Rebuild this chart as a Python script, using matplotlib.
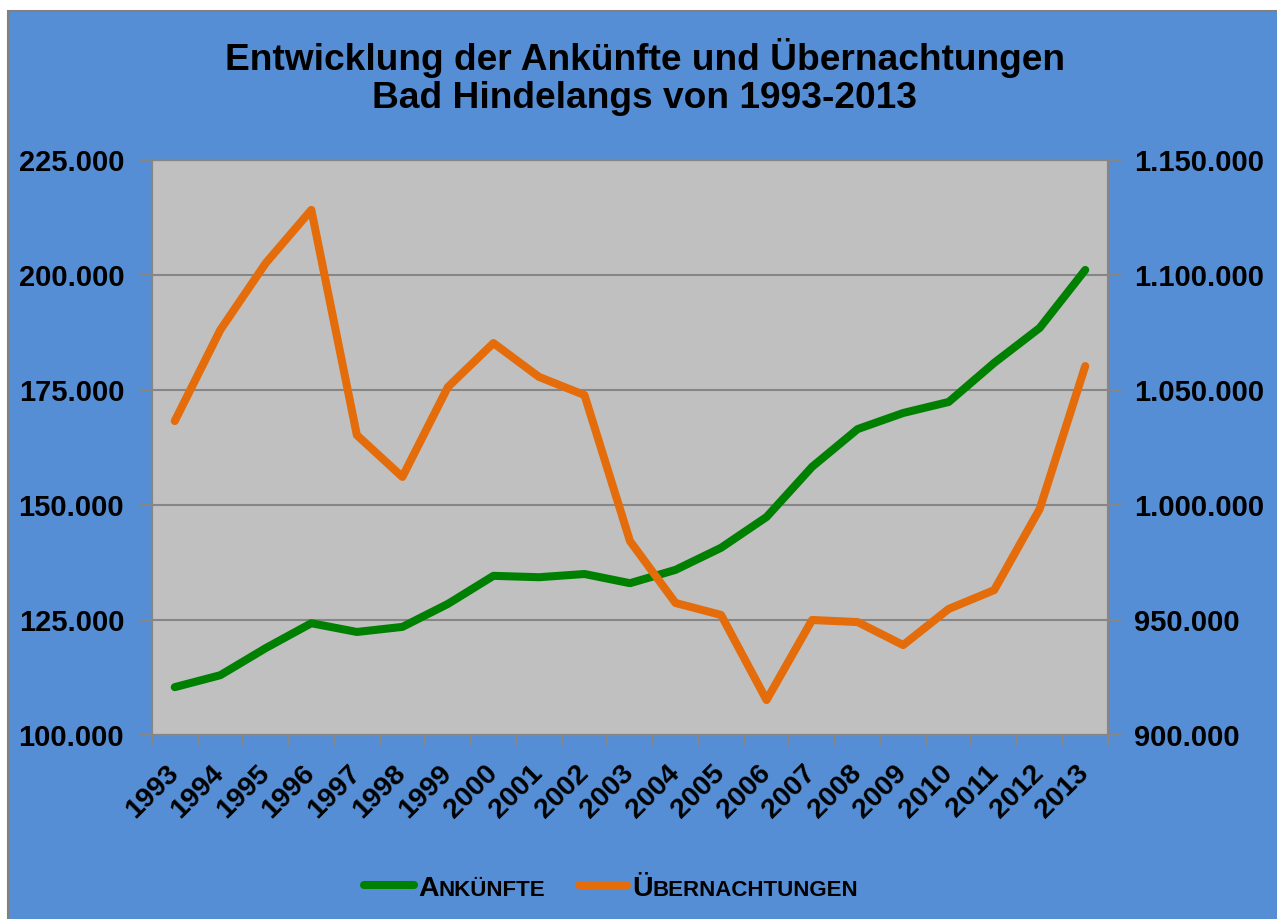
import numpy as np
import matplotlib
matplotlib.use("Agg")
import matplotlib.pyplot as plt
from matplotlib.patches import Rectangle
from matplotlib.lines import Line2D
from matplotlib.transforms import ScaledTranslation
from matplotlib.ticker import FuncFormatter, FixedLocator

plt.rcParams['font.family'] = ['Liberation Sans', 'DejaVu Sans']
plt.rcParams['font.weight'] = 'bold'

jahre = [str(j) for j in range(1993, 2014)]
# Ankuenfte (linke Achse)
ankuenfte = [110400, 113000, 118900, 124300, 122400, 123500, 128500, 134600, 134300, 135000,
             133000, 135900, 140700, 147400, 158300, 166500, 170000, 172400, 180900, 188500, 201100]
# Uebernachtungen (rechte Achse)
uebernachtungen = [1036500, 1076100, 1105200, 1128300, 1030400, 1012200, 1051300, 1070400, 1055700, 1047800,
                   984300, 957400, 952200, 915200, 950000, 949100, 939100, 954800, 963000, 998300, 1060400]

blau = '#558ED5'
grau = '#868686'
gruen = '#008000'
orange = '#E46C0A'

fig = plt.figure(figsize=(12.77, 9.19), dpi=100)
fig.patch.set_facecolor('white')
fig.patches.append(Rectangle((8 / 1277, -0.01), 1.0, (919 - 11) / 919 + 0.01,
                             transform=fig.transFigure, facecolor=blau,
                             edgecolor='#808080', linewidth=1.5, zorder=-5))

ax = fig.add_axes([152 / 1277, 1 - 735 / 919, (1108 - 152) / 1277, (735 - 160) / 919])
ax.set_facecolor('#C0C0C0')
ax2 = ax.twinx()

x = np.arange(len(jahre))
ax.plot(x, ankuenfte, color=gruen, lw=5.8, solid_capstyle='round', solid_joinstyle='round', zorder=3)
ax2.plot(x, uebernachtungen, color=orange, lw=5.8, solid_capstyle='round', solid_joinstyle='round', zorder=3)

ax.set_xlim(-0.5, len(jahre) - 0.5)
ax.set_ylim(100000, 225000)
ax2.set_ylim(900000, 1150000)
ax.set_yticks(np.arange(100000, 225001, 25000))
ax2.set_yticks(np.arange(900000, 1150001, 50000))

fmt = FuncFormatter(lambda v, p: f"{v:,.0f}".replace(",", "."))
ax.yaxis.set_major_formatter(fmt)
ax2.yaxis.set_major_formatter(fmt)

ax.grid(axis='y', color=grau, lw=1.5)
ax.set_axisbelow(True)

ax.set_xticks(x)
ax.set_xticklabels(jahre, rotation=45, ha='right', va='center', rotation_mode='anchor')
verschiebung = ScaledTranslation(5 / 72, 0, fig.dpi_scale_trans)
for lab in ax.get_xticklabels():
    lab.set_transform(lab.get_transform() + verschiebung)
ax.xaxis.set_minor_locator(FixedLocator(np.arange(-0.5, len(jahre), 1.0)))
ax.tick_params(axis='x', which='major', length=0, pad=25, labelsize=20.5)
ax.tick_params(axis='x', which='minor', length=8, width=1.5, color=grau)
ax.tick_params(axis='y', length=9, width=1.5, color=grau, pad=11, labelsize=21)
ax2.tick_params(axis='y', length=9, width=1.5, color=grau, pad=10, labelsize=21)

for a in (ax, ax2):
    for s in a.spines.values():
        s.set_color(grau)
        s.set_linewidth(1.5)

fig.text(0.505, 1 - 77 / 919, "Entwicklung der Ankünfte und Übernachtungen\nBad Hindelangs von 1993-2013",
         ha='center', va='center', fontsize=26.7, fontweight='bold', linespacing=1.12)

# Legende mit Kapitaelchen
renderer = fig.canvas.get_renderer()
def kapitaelchen(x0, y0, wort):
    t1 = fig.text(x0, y0, wort[0], fontsize=20.5, fontweight='bold', va='baseline')
    bb = t1.get_window_extent(renderer)
    fig.text(bb.x1 / fig.bbox.width, y0, wort[1:], fontsize=16, fontweight='bold', va='baseline')

ly = 1 - 885 / 919
fig.lines.append(Line2D([364 / 1277, 414 / 1277], [ly, ly], transform=fig.transFigure,
                        color=gruen, lw=5.8, solid_capstyle='round'))
fig.lines.append(Line2D([579 / 1277, 627 / 1277], [ly, ly], transform=fig.transFigure,
                        color=orange, lw=5.8, solid_capstyle='round'))
kapitaelchen(418 / 1277, 1 - 896 / 919, "ANKÜNFTE")
kapitaelchen(632 / 1277, 1 - 896 / 919, "ÜBERNACHTUNGEN")

fig.savefig("out.png", dpi=100)
